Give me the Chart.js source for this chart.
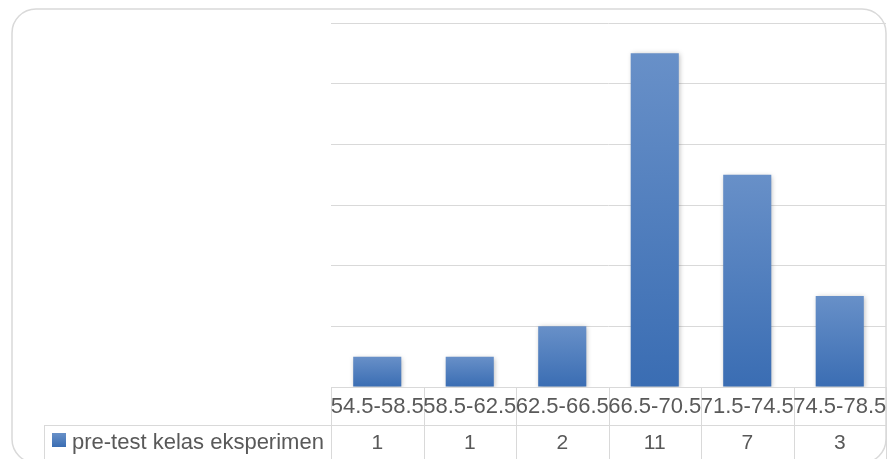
<!DOCTYPE html>
<html>
<head>
<meta charset="utf-8">
<script src="https://cdn.jsdelivr.net/npm/chart.js@4/dist/chart.umd.min.js"></script>
<style>
html,body{margin:0;padding:0;background:#fff;}
#wrap{position:relative;width:889px;height:459px;}
</style>
</head>
<body>
<div id="wrap"><canvas id="c" width="889" height="459"></canvas></div>
<script>
const categories = ["54.5-58.5","58.5-62.5","62.5-66.5","66.5-70.5","71.5-74.5","74.5-78.5"];
const seriesName = "pre-test kelas eksperimen";
const values = [1, 1, 2, 11, 7, 3];
const yMin = 0, yMax = 12, yStep = 2;

const LINE = "#d9d9d9";
const TEXT = "#595959";
const FONT = "Liberation Sans, Arial, sans-serif";

function barGradient(ctx) {
  const chart = ctx.chart;
  const ys = chart.scales && chart.scales.y;
  if (!ys || !chart.chartArea || ctx.parsed === undefined) return "#4f81bd";
  const top = ys.getPixelForValue(ctx.parsed.y);
  const bot = ys.getPixelForValue(0);
  const g = chart.ctx.createLinearGradient(0, top, 0, bot);
  g.addColorStop(0, "#6890c8");
  g.addColorStop(1, "#3a6db3");
  return g;
}

const frame = {
  id: "frame",
  beforeDraw(chart) {
    const c = chart.ctx;
    c.save();
    c.strokeStyle = LINE;
    c.lineWidth = 1.5;
    c.beginPath();
    c.roundRect(12, 9, 874, 454, 24);
    c.stroke();
    c.restore();
  }
};

const shadow = {
  id: "shadow",
  beforeDatasetsDraw(chart) {
    const c = chart.ctx;
    c.save();
    c.shadowColor = "rgba(0,0,0,0.28)";
    c.shadowBlur = 5;
    c.shadowOffsetX = 1;
    c.shadowOffsetY = 1;
  },
  afterDatasetsDraw(chart) { chart.ctx.restore(); }
};

const dataTable = {
  id: "dataTable",
  afterDraw(chart) {
    const c = chart.ctx;
    const xs = chart.scales.x;
    const area = chart.chartArea;
    const n = categories.length;
    const colW = (area.right - area.left) / n;
    const top = area.bottom;
    const mid = top + 38;
    const bottom = chart.height + 5;
    const legLeft = 44;
    c.save();
    c.strokeStyle = LINE;
    c.lineWidth = 1;
    c.beginPath();
    c.moveTo(area.left, top + 0.5); c.lineTo(area.right, top + 0.5);
    c.moveTo(legLeft, mid + 0.5); c.lineTo(area.right, mid + 0.5);
    for (let i = 0; i <= n; i++) {
      const x = Math.round(xs.getPixelForValue(0) - colW / 2 + i * colW) + 0.5;
      c.moveTo(x, top); c.lineTo(x, bottom);
    }
    c.moveTo(legLeft + 0.5, mid); c.lineTo(legLeft + 0.5, bottom);
    c.stroke();

    c.fillStyle = TEXT;
    c.textAlign = "center";
    c.textBaseline = "middle";
    for (let i = 0; i < n; i++) {
      const x = xs.getPixelForValue(i);
      c.font = "22px " + FONT;
      c.fillText(categories[i], x, top + 20);
      c.font = "21px " + FONT;
      c.fillText(String(values[i]), x, mid + 18);
    }
    const g = c.createLinearGradient(0, mid + 8, 0, mid + 22);
    g.addColorStop(0, "#6890c8");
    g.addColorStop(1, "#3a6db3");
    c.fillStyle = g;
    c.fillRect(52, mid + 8, 14, 14);
    c.fillStyle = TEXT;
    c.textAlign = "left";
    c.font = "22px " + FONT;
    c.fillText(seriesName, 72, mid + 18);
    c.restore();
  }
};

new Chart(document.getElementById("c"), {
  type: "bar",
  data: {
    labels: categories,
    datasets: [{
      label: seriesName,
      data: values,
      backgroundColor: barGradient,
      borderWidth: 0,
      categoryPercentage: 1,
      barPercentage: 0.52
    }]
  },
  options: {
    responsive: false,
    animation: false,
    devicePixelRatio: 1,
    layout: { padding: { left: 331, right: 3, top: 23, bottom: 72 } },
    plugins: { legend: { display: false }, tooltip: { enabled: false } },
    scales: {
      x: { display: false },
      y: {
        min: yMin, max: yMax,
        ticks: { display: false, stepSize: yStep },
        grid: { color: LINE, lineWidth: 1, drawTicks: false },
        border: { display: false }
      }
    }
  },
  plugins: [frame, shadow, dataTable]
});
</script>
</body>
</html>
